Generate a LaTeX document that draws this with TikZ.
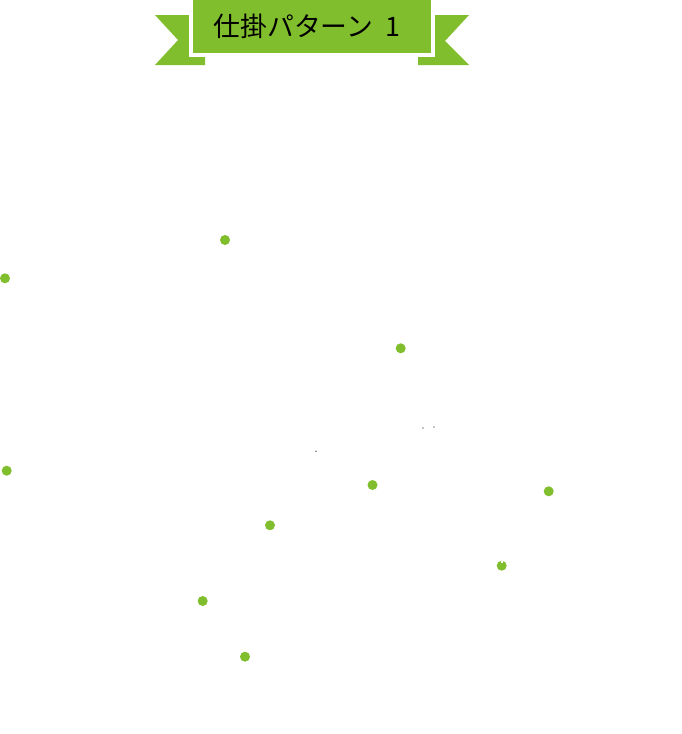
\documentclass[tikz,border=0pt]{standalone}
\usepackage{fontspec}
\newfontfamily\cjk{Noto Sans CJK JP}
\definecolor{leaf}{RGB}{128,190,45}
\begin{document}
\begin{tikzpicture}[x=1pt,y=-1pt,
  gdot/.style={fill=leaf,draw=none},
  bdot/.style={fill=black,draw=none},
  tail/.style={fill=leaf,draw=none}]
\useasboundingbox[fill=white] (0,0) rectangle (682,734);
% ribbon tails
\fill[tail] (155,15) -- (205,15) -- (205,65) -- (155,65) -- (178,40) -- cycle;
\fill[tail] (469,15) -- (418,15) -- (418,65) -- (469,65) -- (445,41) -- cycle;
% white border and main band
\fill[white] (189,0) rectangle (435,57);
\node[fill=leaf,minimum width=238pt,minimum height=52.5pt,inner sep=0pt,anchor=north west] (band) at (193,0) {};
\node[anchor=west,inner sep=0pt,font=\cjk\fontsize{26.8}{30}\selectfont] (title) at (213.5,26) {仕掛パターン\hspace{12pt}1};
% green dots
\fill[gdot] (225,240) circle (5);
\fill[gdot] (5,278.3) circle (5);
\fill[gdot] (400.7,348.3) circle (5);
\fill[gdot] (6.7,470.7) circle (5);
\fill[gdot] (372.5,485) circle (5);
\fill[gdot] (548.7,491.3) circle (5);
\fill[gdot] (270,525.3) circle (5);
\fill[gdot] (501.7,565.7) circle (5);
\fill[white] (501,560.5) rectangle (502.6,562.6);
\fill[gdot] (202.7,601) circle (5);
\fill[gdot] (245,656.7) circle (5);
% tiny black dots
\fill[bdot] (423,428) circle (0.7);
\fill[bdot] (434,427) circle (0.7);
\fill[bdot] (316,451.3) circle (0.6);
\end{tikzpicture}
\end{document}
